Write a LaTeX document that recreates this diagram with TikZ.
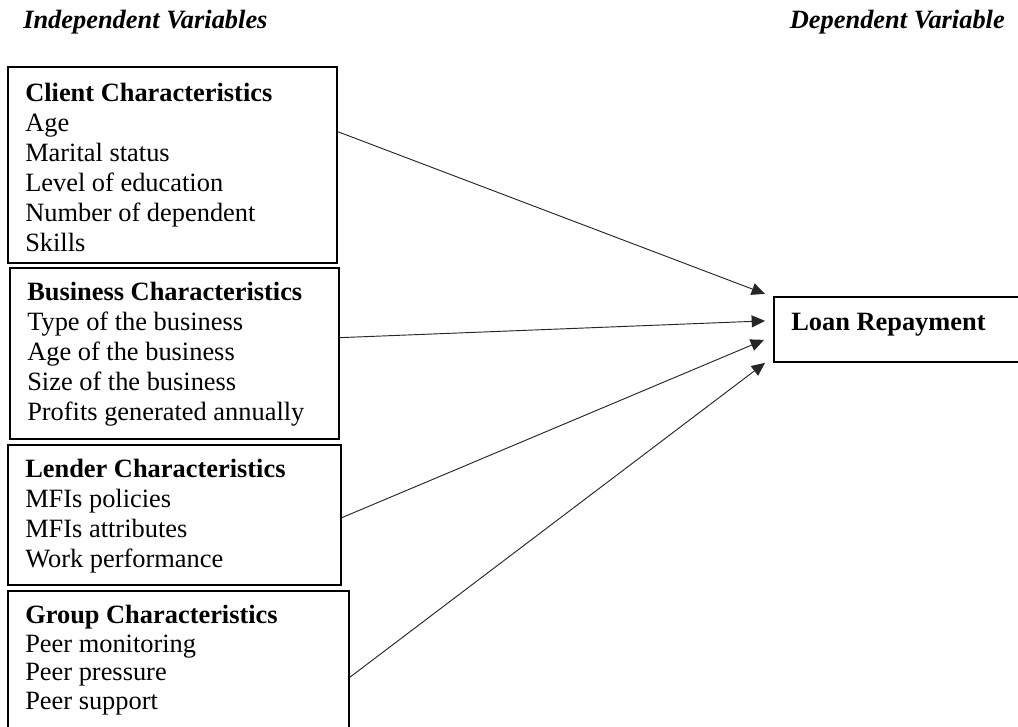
\documentclass[tikz,border=0pt]{standalone}
\usepackage{fontspec}
\setmainfont{Liberation Serif}
\usetikzlibrary{calc,arrows.meta}
\tikzset{
  box/.style={draw=black, line width=1.3pt, rectangle, inner sep=0pt, anchor=north west},
  txt/.style={inner sep=0pt, anchor=base west, align=left, font=\fontsize{19.8pt}{22.5pt}\selectfont},
  hdr/.style={inner sep=0pt, font=\fontsize{19.8pt}{22.5pt}\selectfont\bfseries\itshape},
  arr/.style={draw=black!85, line width=0.7pt, -{Triangle[length=10pt,width=9pt]}}
}
\begin{document}
\begin{tikzpicture}[x=0.75pt,y=-0.75pt]
\clip (0,0) rectangle (1018,726);
\fill[white] (0,0) rectangle (1018,726);
% headers
\node[hdr, anchor=base west] (ind) at (23,28) {Independent Variables};
\node[hdr, anchor=base east] (dep) at (1005,28) {Dependent Variable};
% boxes
\node[box, minimum width=329*0.75pt, minimum height=196*0.75pt] (c1) at (7,66) {};
\node[box, minimum width=329*0.75pt, minimum height=171*0.75pt] (c2) at (9,267) {};
\node[box, minimum width=333*0.75pt, minimum height=140*0.75pt] (c3) at (7,444) {};
\node[box, minimum width=341*0.75pt, minimum height=160*0.75pt] (c4) at (7,590) {};
\node[box, minimum width=270*0.75pt, minimum height=65*0.75pt] (loan) at (773,296) {};
% texts (anchored at the baseline of their last line)
\node[txt] (t1) at (25,251) {\textbf{Client Characteristics}\\Age\\Marital status\\Level of education\\Number of dependent\\Skills};
\node[txt] (t2) at (27,420) {\textbf{Business Characteristics}\\Type of the business\\Age of the business\\Size of the business\\Profits generated annually};
\node[txt] (t3) at (25,567) {\textbf{Lender Characteristics}\\MFIs policies\\MFIs attributes\\Work performance};
\node[txt, font=\fontsize{19.8pt}{21.3pt}\selectfont] (t4) at (25,709) {\textbf{Group Characteristics}\\Peer monitoring\\Peer pressure\\Peer support};
\node[txt] (tl) at (791,330) {\textbf{Loan Repayment}};
% arrows
\draw[arr] ($(c1.north east)!0.332!(c1.south east)$) -- ($(loan.west)+(-8,-35.5)$);
\draw[arr] ($(c2.north east)!0.409!(c2.south east)$) -- ($(loan.west)+(-8,-8.5)$);
\draw[arr] ($(c3.north east)!0.52!(c3.south east)$) -- ($(loan.west)+(-9,10.5)$);
\draw[arr] ($(c4.north east)!0.54!(c4.south east)$) -- ($(loan.west)+(-8,33.5)$);
\end{tikzpicture}
\end{document}
